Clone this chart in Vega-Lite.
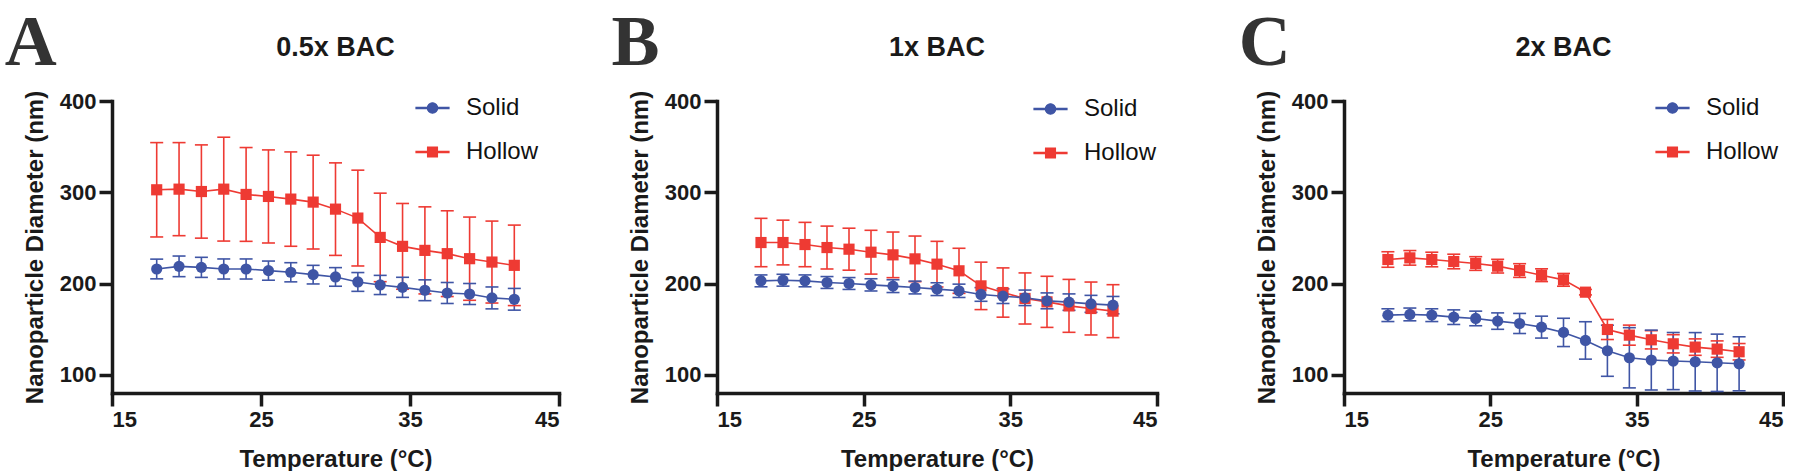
{
"$schema": "https://vega.github.io/schema/vega-lite/v6.json",
"background": "white",
"padding": {"left": 4, "top": 6, "right": 0, "bottom": 0},
"config": {
 "view": {"stroke": null},
 "font": "Liberation Sans",
 "axis": {"grid": false, "domainColor": "#1a1a1a", "domainWidth": 3.5, "domainCap": "square", "tickColor": "#1a1a1a", "tickWidth": 3.5, "tickSize": 13, "labelFont": "Liberation Sans", "labelFontWeight": "bold", "labelFontSize": 22, "labelColor": "#1a1a1a", "labelPadding": 3, "titleFont": "Liberation Sans", "titleFontWeight": "bold", "titleFontSize": 24, "titleColor": "#1a1a1a", "titlePadding": 12},
 "axisX": {"titlePadding": 17},
 "title": {"font": "Liberation Sans", "fontSize": 27, "fontWeight": "bold", "color": "#1a1a1a", "offset": -55, "baseline": "alphabetic", "anchor": "middle"},
 "legend": {"labelFont": "Liberation Sans", "labelFontSize": 24, "labelColor": "#111111", "rowPadding": 20, "labelOffset": 21.5, "symbolSize": 121, "symbolOpacity": 1, "symbolStrokeWidth": 1.2, "padding": 0}
},
"datasets": {"d": [
{"panel":"A","series":"Hollow","temp":18,"mean":302.7,"lo":251.0,"hi":354.4},
{"panel":"A","series":"Hollow","temp":19.5,"mean":303.4,"lo":252.4,"hi":354.4},
{"panel":"A","series":"Hollow","temp":21,"mean":300.8,"lo":249.7,"hi":351.9},
{"panel":"A","series":"Hollow","temp":22.5,"mean":303.4,"lo":246.5,"hi":360.3},
{"panel":"A","series":"Hollow","temp":24,"mean":297.6,"lo":246.2,"hi":349.0},
{"panel":"A","series":"Hollow","temp":25.5,"mean":295.4,"lo":244.4,"hi":346.4},
{"panel":"A","series":"Hollow","temp":27,"mean":292.5,"lo":240.8,"hi":344.2},
{"panel":"A","series":"Hollow","temp":28.5,"mean":289.2,"lo":237.8,"hi":340.6},
{"panel":"A","series":"Hollow","temp":30,"mean":281.5,"lo":230.8,"hi":332.2},
{"panel":"A","series":"Hollow","temp":31.5,"mean":271.7,"lo":219.2,"hi":324.2},
{"panel":"A","series":"Hollow","temp":33,"mean":250.5,"lo":202.0,"hi":299.0},
{"panel":"A","series":"Hollow","temp":34.5,"mean":240.7,"lo":193.7,"hi":287.7},
{"panel":"A","series":"Hollow","temp":36,"mean":236.3,"lo":188.6,"hi":284.0},
{"panel":"A","series":"Hollow","temp":37.5,"mean":232.7,"lo":185.7,"hi":279.7},
{"panel":"A","series":"Hollow","temp":39,"mean":227.2,"lo":181.6,"hi":272.8},
{"panel":"A","series":"Hollow","temp":40.5,"mean":223.5,"lo":178.6,"hi":268.4},
{"panel":"A","series":"Hollow","temp":42,"mean":219.9,"lo":175.8,"hi":264.0},
{"panel":"A","series":"Solid","temp":18,"mean":215.9,"lo":205.1,"hi":226.7},
{"panel":"A","series":"Solid","temp":19.5,"mean":218.8,"lo":207.5,"hi":230.1},
{"panel":"A","series":"Solid","temp":21,"mean":217.7,"lo":206.7,"hi":228.7},
{"panel":"A","series":"Solid","temp":22.5,"mean":215.9,"lo":204.9,"hi":226.9},
{"panel":"A","series":"Solid","temp":24,"mean":215.9,"lo":204.9,"hi":226.9},
{"panel":"A","series":"Solid","temp":25.5,"mean":214.1,"lo":203.6,"hi":224.6},
{"panel":"A","series":"Solid","temp":27,"mean":212.3,"lo":201.8,"hi":222.8},
{"panel":"A","series":"Solid","temp":28.5,"mean":209.7,"lo":199.5,"hi":219.9},
{"panel":"A","series":"Solid","temp":30,"mean":207.2,"lo":197.0,"hi":217.4},
{"panel":"A","series":"Solid","temp":31.5,"mean":201.7,"lo":191.4,"hi":212.0},
{"panel":"A","series":"Solid","temp":33,"mean":198.4,"lo":187.9,"hi":208.9},
{"panel":"A","series":"Solid","temp":34.5,"mean":195.8,"lo":184.8,"hi":206.8},
{"panel":"A","series":"Solid","temp":36,"mean":192.6,"lo":181.2,"hi":204.0},
{"panel":"A","series":"Solid","temp":37.5,"mean":189.6,"lo":178.1,"hi":201.1},
{"panel":"A","series":"Solid","temp":39,"mean":188.5,"lo":177.0,"hi":200.0},
{"panel":"A","series":"Solid","temp":40.5,"mean":184.2,"lo":172.2,"hi":196.2},
{"panel":"A","series":"Solid","temp":42,"mean":182.7,"lo":170.8,"hi":194.6},
{"panel":"B","series":"Hollow","temp":18,"mean":244.9,"lo":218.4,"hi":271.4},
{"panel":"B","series":"Hollow","temp":19.5,"mean":244.9,"lo":220.4,"hi":269.4},
{"panel":"B","series":"Hollow","temp":21,"mean":242.7,"lo":218.4,"hi":267.0},
{"panel":"B","series":"Hollow","temp":22.5,"mean":239.4,"lo":215.9,"hi":262.9},
{"panel":"B","series":"Hollow","temp":24,"mean":237.6,"lo":214.6,"hi":260.6},
{"panel":"B","series":"Hollow","temp":25.5,"mean":234.3,"lo":210.3,"hi":258.3},
{"panel":"B","series":"Hollow","temp":27,"mean":231.4,"lo":206.4,"hi":256.4},
{"panel":"B","series":"Hollow","temp":28.5,"mean":227.0,"lo":202.0,"hi":252.0},
{"panel":"B","series":"Hollow","temp":30,"mean":221.2,"lo":196.2,"hi":246.2},
{"panel":"B","series":"Hollow","temp":31.5,"mean":213.9,"lo":189.2,"hi":238.6},
{"panel":"B","series":"Hollow","temp":33,"mean":197.4,"lo":171.4,"hi":223.4},
{"panel":"B","series":"Hollow","temp":34.5,"mean":190.1,"lo":163.1,"hi":217.1},
{"panel":"B","series":"Hollow","temp":36,"mean":183.6,"lo":155.6,"hi":211.6},
{"panel":"B","series":"Hollow","temp":37.5,"mean":179.9,"lo":151.9,"hi":207.9},
{"panel":"B","series":"Hollow","temp":39,"mean":175.5,"lo":146.5,"hi":204.5},
{"panel":"B","series":"Hollow","temp":40.5,"mean":172.6,"lo":143.6,"hi":201.6},
{"panel":"B","series":"Hollow","temp":42,"mean":169.7,"lo":140.7,"hi":198.7},
{"panel":"B","series":"Solid","temp":18,"mean":202.9,"lo":196.4,"hi":209.4},
{"panel":"B","series":"Solid","temp":19.5,"mean":203.6,"lo":197.1,"hi":210.1},
{"panel":"B","series":"Solid","temp":21,"mean":202.9,"lo":196.4,"hi":209.4},
{"panel":"B","series":"Solid","temp":22.5,"mean":201.1,"lo":194.6,"hi":207.6},
{"panel":"B","series":"Solid","temp":24,"mean":200.0,"lo":193.5,"hi":206.5},
{"panel":"B","series":"Solid","temp":25.5,"mean":198.5,"lo":191.8,"hi":205.2},
{"panel":"B","series":"Solid","temp":27,"mean":197.1,"lo":190.1,"hi":204.1},
{"panel":"B","series":"Solid","temp":28.5,"mean":195.6,"lo":188.6,"hi":202.6},
{"panel":"B","series":"Solid","temp":30,"mean":193.8,"lo":186.8,"hi":200.8},
{"panel":"B","series":"Solid","temp":31.5,"mean":192.0,"lo":184.7,"hi":199.3},
{"panel":"B","series":"Solid","temp":33,"mean":188.0,"lo":180.5,"hi":195.5},
{"panel":"B","series":"Solid","temp":34.5,"mean":186.1,"lo":178.1,"hi":194.1},
{"panel":"B","series":"Solid","temp":36,"mean":184.3,"lo":175.8,"hi":192.8},
{"panel":"B","series":"Solid","temp":37.5,"mean":181.0,"lo":172.3,"hi":189.7},
{"panel":"B","series":"Solid","temp":39,"mean":179.6,"lo":170.6,"hi":188.6},
{"panel":"B","series":"Solid","temp":40.5,"mean":177.7,"lo":168.4,"hi":187.0},
{"panel":"B","series":"Solid","temp":42,"mean":176.3,"lo":166.8,"hi":185.8},
{"panel":"C","series":"Hollow","temp":18,"mean":226.3,"lo":217.8,"hi":234.8},
{"panel":"C","series":"Hollow","temp":19.5,"mean":228.1,"lo":220.1,"hi":236.1},
{"panel":"C","series":"Hollow","temp":21,"mean":226.3,"lo":218.3,"hi":234.3},
{"panel":"C","series":"Hollow","temp":22.5,"mean":224.1,"lo":216.1,"hi":232.1},
{"panel":"C","series":"Hollow","temp":24,"mean":221.9,"lo":214.4,"hi":229.4},
{"panel":"C","series":"Hollow","temp":25.5,"mean":219.0,"lo":211.5,"hi":226.5},
{"panel":"C","series":"Hollow","temp":27,"mean":214.2,"lo":206.7,"hi":221.7},
{"panel":"C","series":"Hollow","temp":28.5,"mean":209.1,"lo":202.1,"hi":216.1},
{"panel":"C","series":"Hollow","temp":30,"mean":204.0,"lo":197.0,"hi":211.0},
{"panel":"C","series":"Hollow","temp":31.5,"mean":190.5,"lo":187.5,"hi":193.5},
{"panel":"C","series":"Hollow","temp":33,"mean":149.6,"lo":138.6,"hi":160.6},
{"panel":"C","series":"Hollow","temp":34.5,"mean":143.4,"lo":132.4,"hi":154.4},
{"panel":"C","series":"Hollow","temp":36,"mean":138.3,"lo":128.3,"hi":148.3},
{"panel":"C","series":"Hollow","temp":37.5,"mean":133.9,"lo":123.9,"hi":143.9},
{"panel":"C","series":"Hollow","temp":39,"mean":130.3,"lo":121.3,"hi":139.3},
{"panel":"C","series":"Hollow","temp":40.5,"mean":128.1,"lo":119.1,"hi":137.1},
{"panel":"C","series":"Hollow","temp":42,"mean":125.2,"lo":116.2,"hi":134.2},
{"panel":"C","series":"Solid","temp":18,"mean":165.3,"lo":158.3,"hi":172.3},
{"panel":"C","series":"Solid","temp":19.5,"mean":166.1,"lo":159.1,"hi":173.1},
{"panel":"C","series":"Solid","temp":21,"mean":165.3,"lo":158.3,"hi":172.3},
{"panel":"C","series":"Solid","temp":22.5,"mean":163.1,"lo":155.1,"hi":171.1},
{"panel":"C","series":"Solid","temp":24,"mean":161.7,"lo":153.7,"hi":169.7},
{"panel":"C","series":"Solid","temp":25.5,"mean":158.8,"lo":149.8,"hi":167.8},
{"panel":"C","series":"Solid","temp":27,"mean":156.2,"lo":145.2,"hi":167.2},
{"panel":"C","series":"Solid","temp":28.5,"mean":152.2,"lo":140.2,"hi":164.2},
{"panel":"C","series":"Solid","temp":30,"mean":146.4,"lo":130.9,"hi":161.9},
{"panel":"C","series":"Solid","temp":31.5,"mean":137.6,"lo":117.1,"hi":158.1},
{"panel":"C","series":"Solid","temp":33,"mean":126.3,"lo":98.3,"hi":154.3},
{"panel":"C","series":"Solid","temp":34.5,"mean":118.6,"lo":85.6,"hi":151.6},
{"panel":"C","series":"Solid","temp":36,"mean":116.1,"lo":83.3,"hi":148.9},
{"panel":"C","series":"Solid","temp":37.5,"mean":115.0,"lo":83.7,"hi":146.3},
{"panel":"C","series":"Solid","temp":39,"mean":114.2,"lo":82.2,"hi":146.2},
{"panel":"C","series":"Solid","temp":40.5,"mean":113.1,"lo":81.7,"hi":144.5},
{"panel":"C","series":"Solid","temp":42,"mean":112.0,"lo":82.4,"hi":141.6}
]},
"spacing": 50,
"resolve": {"scale": {"color": "independent", "shape": "independent"}, "legend": {"color": "independent", "shape": "independent"}},
"hconcat": [
{
 "width": 447, "height": 292,
 "title": {"text": "0.5x BAC"},
 "layer": [
  {"data": {"name": "d"}, "transform": [{"filter": "datum.panel === 'A'"}],
   "mark": {"type": "rule", "strokeWidth": 1.6},
   "encoding": {
    "x": {"field": "temp", "type": "quantitative", "title": "Temperature (°C)", "scale": {"domain": [15, 45], "nice": false, "zero": false}, "axis": {"values": [15, 25, 35, 45]}},
    "y": {"field": "lo", "type": "quantitative", "title": "Nanoparticle Diameter (nm)", "scale": {"domain": [80, 400], "nice": false, "zero": false}, "axis": {"values": [100, 200, 300, 400]}},
    "y2": {"field": "hi"},
    "color": {"field": "series", "type": "nominal", "scale": {"domain": ["Solid", "Hollow"], "range": ["#3F55A5", "#EE3A33"]}}}},
  {"data": {"name": "d"}, "transform": [{"filter": "datum.panel === 'A'"}],
   "mark": {"type": "tick", "orient": "horizontal", "size": 13, "thickness": 1.6, "opacity": 1},
   "encoding": {"x": {"field": "temp", "type": "quantitative", "title": "Temperature (°C)"}, "y": {"field": "lo", "type": "quantitative", "title": "Nanoparticle Diameter (nm)"}, "color": {"field": "series", "type": "nominal"}}},
  {"data": {"name": "d"}, "transform": [{"filter": "datum.panel === 'A'"}],
   "mark": {"type": "tick", "orient": "horizontal", "size": 13, "thickness": 1.6, "opacity": 1},
   "encoding": {"x": {"field": "temp", "type": "quantitative", "title": "Temperature (°C)"}, "y": {"field": "hi", "type": "quantitative", "title": "Nanoparticle Diameter (nm)"}, "color": {"field": "series", "type": "nominal"}}},
  {"data": {"name": "d"}, "transform": [{"filter": "datum.panel === 'A'"}],
   "mark": {"type": "line", "strokeWidth": 1.6},
   "encoding": {"x": {"field": "temp", "type": "quantitative", "title": "Temperature (°C)"}, "y": {"field": "mean", "type": "quantitative", "title": "Nanoparticle Diameter (nm)"}, "color": {"field": "series", "type": "nominal"}}},
  {"data": {"name": "d"}, "transform": [{"filter": "datum.panel === 'A' && datum.series === 'Hollow'"}],
   "mark": {"type": "point", "shape": "square", "filled": true, "size": 125, "opacity": 1},
   "encoding": {"x": {"field": "temp", "type": "quantitative", "title": "Temperature (°C)"}, "y": {"field": "mean", "type": "quantitative", "title": "Nanoparticle Diameter (nm)"}, "color": {"field": "series", "type": "nominal"}}},
  {"data": {"name": "d"}, "transform": [{"filter": "datum.panel === 'A' && datum.series === 'Solid'"}],
   "mark": {"type": "point", "shape": "circle", "filled": true, "size": 125, "opacity": 1},
   "encoding": {"x": {"field": "temp", "type": "quantitative", "title": "Temperature (°C)"}, "y": {"field": "mean", "type": "quantitative", "title": "Nanoparticle Diameter (nm)"}, "color": {"field": "series", "type": "nominal"}}},
  {"data": {"name": "d"}, "transform": [{"filter": "datum.panel === 'A'"}],
   "mark": {"type": "point", "filled": true, "size": 121, "opacity": 0},
   "encoding": {"x": {"field": "temp", "type": "quantitative", "title": "Temperature (°C)"}, "y": {"field": "mean", "type": "quantitative", "title": "Nanoparticle Diameter (nm)"},
    "color": {"field": "series", "type": "nominal", "legend": {"title": null, "orient": "none", "legendX": 308.5, "legendY": -5}},
    "shape": {"field": "series", "type": "nominal", "scale": {"domain": ["Solid", "Hollow"], "range": ["M-3,-0.1H3V0.1H-3ZM-0.95,0A0.95,0.95,0,1,1,0.95,0A0.95,0.95,0,1,1,-0.95,0Z", "M-3,-0.1H3V0.1H-3ZM-0.9,-0.9H0.9V0.9H-0.9Z"]}, "legend": {"title": null, "orient": "none", "legendX": 308.5, "legendY": -5}}}},
  {"data": {"values": [{"label": "A"}]},
   "mark": {"type": "text", "font": "Liberation Serif", "fontWeight": "bold", "fontSize": 72, "align": "left", "baseline": "alphabetic", "color": "#333333"},
   "encoding": {"x": {"datum": 7.8, "type": "quantitative"}, "y": {"datum": 439.5, "type": "quantitative"}, "text": {"field": "label"}}}
 ]
},
{
 "spacing": 79,
 "resolve": {"scale": {"color": "independent", "shape": "independent"}, "legend": {"color": "independent", "shape": "independent"}},
 "hconcat": [
 {
 "width": 440, "height": 292,
 "title": {"text": "1x BAC"},
 "layer": [
  {"data": {"name": "d"}, "transform": [{"filter": "datum.panel === 'B'"}],
   "mark": {"type": "rule", "strokeWidth": 1.6},
   "encoding": {
    "x": {"field": "temp", "type": "quantitative", "title": "Temperature (°C)", "scale": {"domain": [15, 45], "nice": false, "zero": false}, "axis": {"values": [15, 25, 35, 45]}},
    "y": {"field": "lo", "type": "quantitative", "title": "Nanoparticle Diameter (nm)", "scale": {"domain": [80, 400], "nice": false, "zero": false}, "axis": {"values": [100, 200, 300, 400]}},
    "y2": {"field": "hi"},
    "color": {"field": "series", "type": "nominal", "scale": {"domain": ["Solid", "Hollow"], "range": ["#3F55A5", "#EE3A33"]}}}},
  {"data": {"name": "d"}, "transform": [{"filter": "datum.panel === 'B'"}],
   "mark": {"type": "tick", "orient": "horizontal", "size": 13, "thickness": 1.6, "opacity": 1},
   "encoding": {"x": {"field": "temp", "type": "quantitative", "title": "Temperature (°C)"}, "y": {"field": "lo", "type": "quantitative", "title": "Nanoparticle Diameter (nm)"}, "color": {"field": "series", "type": "nominal"}}},
  {"data": {"name": "d"}, "transform": [{"filter": "datum.panel === 'B'"}],
   "mark": {"type": "tick", "orient": "horizontal", "size": 13, "thickness": 1.6, "opacity": 1},
   "encoding": {"x": {"field": "temp", "type": "quantitative", "title": "Temperature (°C)"}, "y": {"field": "hi", "type": "quantitative", "title": "Nanoparticle Diameter (nm)"}, "color": {"field": "series", "type": "nominal"}}},
  {"data": {"name": "d"}, "transform": [{"filter": "datum.panel === 'B'"}],
   "mark": {"type": "line", "strokeWidth": 1.6},
   "encoding": {"x": {"field": "temp", "type": "quantitative", "title": "Temperature (°C)"}, "y": {"field": "mean", "type": "quantitative", "title": "Nanoparticle Diameter (nm)"}, "color": {"field": "series", "type": "nominal"}}},
  {"data": {"name": "d"}, "transform": [{"filter": "datum.panel === 'B' && datum.series === 'Hollow'"}],
   "mark": {"type": "point", "shape": "square", "filled": true, "size": 125, "opacity": 1},
   "encoding": {"x": {"field": "temp", "type": "quantitative", "title": "Temperature (°C)"}, "y": {"field": "mean", "type": "quantitative", "title": "Nanoparticle Diameter (nm)"}, "color": {"field": "series", "type": "nominal"}}},
  {"data": {"name": "d"}, "transform": [{"filter": "datum.panel === 'B' && datum.series === 'Solid'"}],
   "mark": {"type": "point", "shape": "circle", "filled": true, "size": 125, "opacity": 1},
   "encoding": {"x": {"field": "temp", "type": "quantitative", "title": "Temperature (°C)"}, "y": {"field": "mean", "type": "quantitative", "title": "Nanoparticle Diameter (nm)"}, "color": {"field": "series", "type": "nominal"}}},
  {"data": {"name": "d"}, "transform": [{"filter": "datum.panel === 'B'"}],
   "mark": {"type": "point", "filled": true, "size": 121, "opacity": 0},
   "encoding": {"x": {"field": "temp", "type": "quantitative", "title": "Temperature (°C)"}, "y": {"field": "mean", "type": "quantitative", "title": "Nanoparticle Diameter (nm)"},
    "color": {"field": "series", "type": "nominal", "legend": {"title": null, "orient": "none", "legendX": 321.5, "legendY": -4}},
    "shape": {"field": "series", "type": "nominal", "scale": {"domain": ["Solid", "Hollow"], "range": ["M-3,-0.1H3V0.1H-3ZM-0.95,0A0.95,0.95,0,1,1,0.95,0A0.95,0.95,0,1,1,-0.95,0Z", "M-3,-0.1H3V0.1H-3ZM-0.9,-0.9H0.9V0.9H-0.9Z"]}, "legend": {"title": null, "orient": "none", "legendX": 321.5, "legendY": -4}}}},
  {"data": {"values": [{"label": "B"}]},
   "mark": {"type": "text", "font": "Liberation Serif", "fontWeight": "bold", "fontSize": 72, "align": "left", "baseline": "alphabetic", "color": "#333333"},
   "encoding": {"x": {"datum": 7.8, "type": "quantitative"}, "y": {"datum": 439.5, "type": "quantitative"}, "text": {"field": "label"}}}
 ]
 },
 {
 "width": 439, "height": 292,
 "title": {"text": "2x BAC"},
 "layer": [
  {"data": {"name": "d"}, "transform": [{"filter": "datum.panel === 'C'"}],
   "mark": {"type": "rule", "strokeWidth": 1.6},
   "encoding": {
    "x": {"field": "temp", "type": "quantitative", "title": "Temperature (°C)", "scale": {"domain": [15, 45], "nice": false, "zero": false}, "axis": {"values": [15, 25, 35, 45]}},
    "y": {"field": "lo", "type": "quantitative", "title": "Nanoparticle Diameter (nm)", "scale": {"domain": [80, 400], "nice": false, "zero": false}, "axis": {"values": [100, 200, 300, 400]}},
    "y2": {"field": "hi"},
    "color": {"field": "series", "type": "nominal", "scale": {"domain": ["Solid", "Hollow"], "range": ["#3F55A5", "#EE3A33"]}}}},
  {"data": {"name": "d"}, "transform": [{"filter": "datum.panel === 'C'"}],
   "mark": {"type": "tick", "orient": "horizontal", "size": 13, "thickness": 1.6, "opacity": 1},
   "encoding": {"x": {"field": "temp", "type": "quantitative", "title": "Temperature (°C)"}, "y": {"field": "lo", "type": "quantitative", "title": "Nanoparticle Diameter (nm)"}, "color": {"field": "series", "type": "nominal"}}},
  {"data": {"name": "d"}, "transform": [{"filter": "datum.panel === 'C'"}],
   "mark": {"type": "tick", "orient": "horizontal", "size": 13, "thickness": 1.6, "opacity": 1},
   "encoding": {"x": {"field": "temp", "type": "quantitative", "title": "Temperature (°C)"}, "y": {"field": "hi", "type": "quantitative", "title": "Nanoparticle Diameter (nm)"}, "color": {"field": "series", "type": "nominal"}}},
  {"data": {"name": "d"}, "transform": [{"filter": "datum.panel === 'C'"}],
   "mark": {"type": "line", "strokeWidth": 1.6},
   "encoding": {"x": {"field": "temp", "type": "quantitative", "title": "Temperature (°C)"}, "y": {"field": "mean", "type": "quantitative", "title": "Nanoparticle Diameter (nm)"}, "color": {"field": "series", "type": "nominal"}}},
  {"data": {"name": "d"}, "transform": [{"filter": "datum.panel === 'C' && datum.series === 'Hollow'"}],
   "mark": {"type": "point", "shape": "square", "filled": true, "size": 125, "opacity": 1},
   "encoding": {"x": {"field": "temp", "type": "quantitative", "title": "Temperature (°C)"}, "y": {"field": "mean", "type": "quantitative", "title": "Nanoparticle Diameter (nm)"}, "color": {"field": "series", "type": "nominal"}}},
  {"data": {"name": "d"}, "transform": [{"filter": "datum.panel === 'C' && datum.series === 'Solid'"}],
   "mark": {"type": "point", "shape": "circle", "filled": true, "size": 125, "opacity": 1},
   "encoding": {"x": {"field": "temp", "type": "quantitative", "title": "Temperature (°C)"}, "y": {"field": "mean", "type": "quantitative", "title": "Nanoparticle Diameter (nm)"}, "color": {"field": "series", "type": "nominal"}}},
  {"data": {"name": "d"}, "transform": [{"filter": "datum.panel === 'C'"}],
   "mark": {"type": "point", "filled": true, "size": 121, "opacity": 0},
   "encoding": {"x": {"field": "temp", "type": "quantitative", "title": "Temperature (°C)"}, "y": {"field": "mean", "type": "quantitative", "title": "Nanoparticle Diameter (nm)"},
    "color": {"field": "series", "type": "nominal", "legend": {"title": null, "orient": "none", "legendX": 316.5, "legendY": -5}},
    "shape": {"field": "series", "type": "nominal", "scale": {"domain": ["Solid", "Hollow"], "range": ["M-3,-0.1H3V0.1H-3ZM-0.95,0A0.95,0.95,0,1,1,0.95,0A0.95,0.95,0,1,1,-0.95,0Z", "M-3,-0.1H3V0.1H-3ZM-0.9,-0.9H0.9V0.9H-0.9Z"]}, "legend": {"title": null, "orient": "none", "legendX": 316.5, "legendY": -5}}}},
  {"data": {"values": [{"label": "C"}]},
   "mark": {"type": "text", "font": "Liberation Serif", "fontWeight": "bold", "fontSize": 72, "align": "left", "baseline": "alphabetic", "color": "#333333"},
   "encoding": {"x": {"datum": 7.8, "type": "quantitative"}, "y": {"datum": 439.5, "type": "quantitative"}, "text": {"field": "label"}}}
 ]
 }
 ]
}
]
}
